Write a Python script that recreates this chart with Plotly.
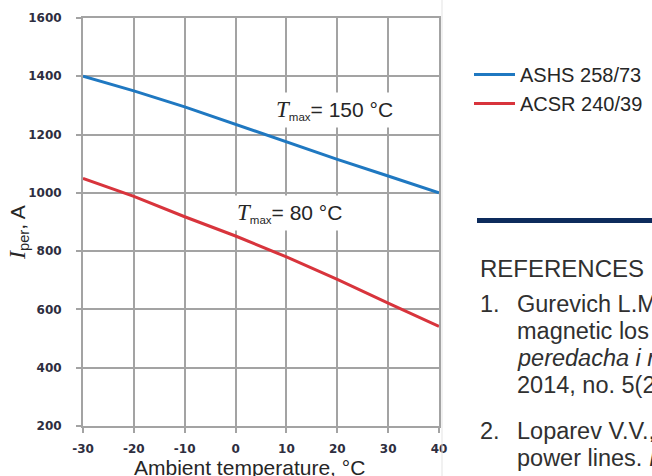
import plotly.graph_objects as go

# ---------------- data ----------------
temps = [-30, -20, -10, 0, 10, 20, 30, 40]
ashs_258_73 = [1400, 1350, 1295, 1235, 1175, 1115, 1058, 1000]
acsr_240_39 = [1050, 988, 918, 852, 780, 703, 622, 542]
series_names = ["ASHS 258/73", "ACSR 240/39"]
x_tick_vals = [-30, -20, -10, 0, 10, 20, 30, 40]
x_tick_text = ["-30", "-20", "-10", "0", "10", "20", "30", "40"]
y_tick_vals = [200, 400, 600, 800, 1000, 1200, 1400, 1600]
y_tick_text = ["200", "400", "600", "800", "1000", "1200", "1400", "1600"]
label_150 = "= 150 °C"
label_80 = "= 80 °C"
x_title = "Ambient temperature, °C"
ref_heading = "REFERENCES"
ref_numbers = ["1.", "2."]
ref_lines = ["Gurevich L.M", "magnetic los", "<i>peredacha i r</i>", "2014, no. 5(2",
             "Loparev V.V.,", "power lines. <i>I</i>"]

# ---------------- layout helpers ----------------
W, H = 652, 476
ML, MR, MT, MB = 83, 213, 18, 50
PW, PH = W - ML - MR, H - MT - MB


def px(x):
    return (x - ML) / PW


def py(y):
    return (H - MB - y) / PH


SANS = "Liberation Sans, Arial, sans-serif"
GRID = "#a3a3a3"
TXT = "#262626"

fig = go.Figure()
fig.add_trace(go.Scatter(x=temps, y=ashs_258_73, mode="lines", name=series_names[0],
                         line=dict(color="#1f78c1", width=3)))
fig.add_trace(go.Scatter(x=temps, y=acsr_240_39, mode="lines", name=series_names[1],
                         line=dict(color="#d8343c", width=3)))

tick_font = dict(family="DejaVu Sans", size=12, color="#2e2e40", weight="bold")

fig.update_xaxes(range=[-30, 40], tickmode="array", tickvals=x_tick_vals,
                 ticktext=x_tick_text, showline=True, linecolor=GRID, linewidth=2,
                 mirror=True, showgrid=True, gridcolor=GRID, gridwidth=2,
                 zeroline=False, ticks="outside", ticklen=5, tickcolor=GRID,
                 tickwidth=2, ticklabelstandoff=6, tickfont=tick_font)
fig.update_yaxes(range=[200, 1600], tickmode="array", tickvals=y_tick_vals,
                 ticktext=y_tick_text, showline=True, linecolor=GRID, linewidth=2,
                 mirror=True, showgrid=True, gridcolor=GRID, gridwidth=2,
                 zeroline=False, ticks="outside", ticklen=5, tickcolor=GRID,
                 tickwidth=2, ticklabelstandoff=12, tickfont=tick_font)

T_SPAN = "<span style='font-family:Liberation Serif;font-size:23px'><i>T</i></span>"
SUB = "<sub><span style='font-size:11.5px'>max</span></sub>"
anns = []


def add_text(x, y, text, size, xanchor="center", yanchor="middle", **kw):
    anns.append(dict(x=px(x), y=py(y), xref="paper", yref="paper", text=text,
                     showarrow=False, xanchor=xanchor, yanchor=yanchor,
                     font=dict(family=SANS, size=size, color=kw.pop("color", TXT)), **kw))


add_text(334, 110, T_SPAN + SUB + label_150, 21, bgcolor="white", borderpad=4)
add_text(289, 213, T_SPAN + SUB + label_80, 21, bgcolor="white", borderpad=4)
# axis titles
add_text(249, 467, x_title, 21)
add_text(18, 233,
         "<span style='font-family:Liberation Serif;font-size:24px'><i>I</i></span><sub>per</sub>, A",
         21, textangle=-90)
# references column
add_text(478, 268, ref_heading, 24, xanchor="left", color="#303030")
for n, yy in zip(ref_numbers, [304, 431]):
    add_text(478, yy, n, 23.5, xanchor="left", color="#303030")
for t, yy in zip(ref_lines, [304, 331, 358, 385, 431, 458]):
    add_text(515, yy, t, 23.5, xanchor="left", color="#303030")

shapes = [
    dict(type="line", xref="paper", yref="paper", x0=px(442), x1=px(442),
         y0=py(0), y1=py(476), line=dict(color="#e3e3e3", width=1)),
    dict(type="rect", xref="paper", yref="paper", x0=px(477), x1=px(660),
         y0=py(223), y1=py(218), line=dict(width=0), fillcolor="#0d2b5c"),
]

fig.update_layout(
    width=W, height=H,
    margin=dict(l=ML, r=MR, t=MT, b=MB, autoexpand=False),
    paper_bgcolor="white", plot_bgcolor="white",
    annotations=anns, shapes=shapes,
    legend=dict(x=px(469), y=py(55), xanchor="left", yanchor="top",
                font=dict(family=SANS, size=20, color="#262626"),
                bgcolor="rgba(0,0,0,0)", itemwidth=41),
)

fig.write_html("out.html")
